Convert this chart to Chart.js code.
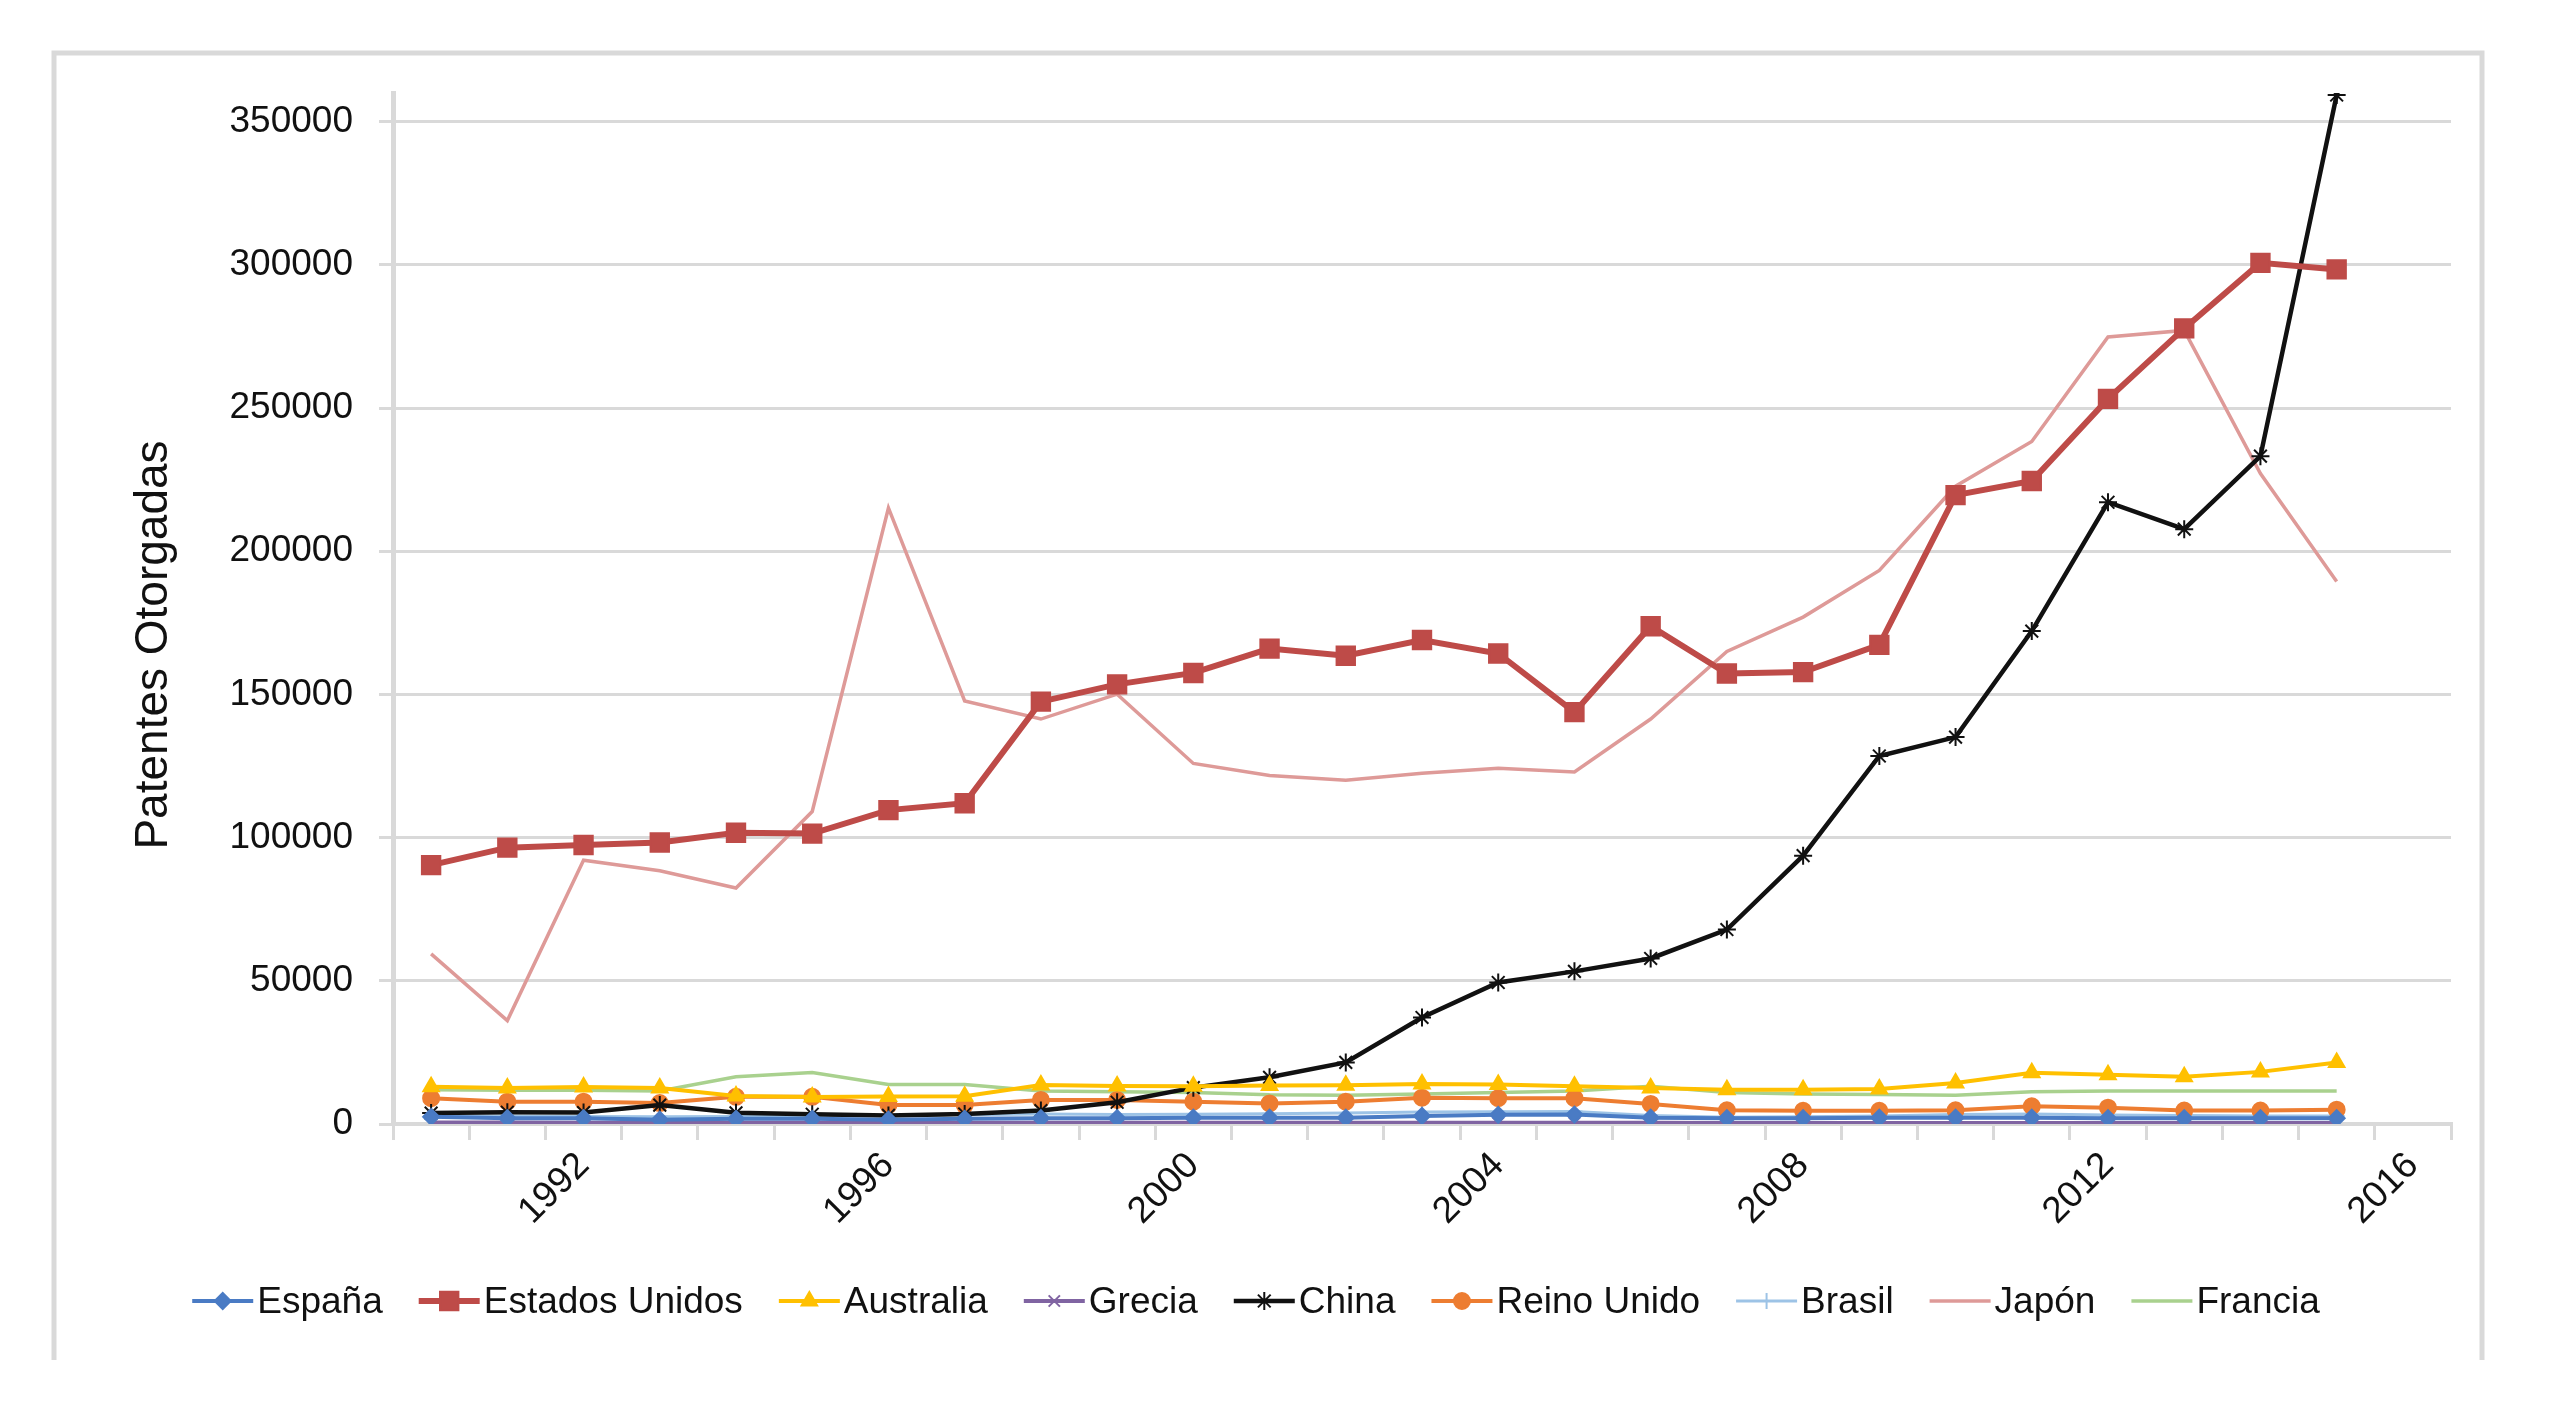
<!DOCTYPE html>
<html>
<head>
<meta charset="utf-8">
<script src="https://cdn.jsdelivr.net/npm/chart.js@4.4.1/dist/chart.umd.min.js"></script>
<style>
html, body { margin: 0; padding: 0; background: #fff; }
</style>
</head>
<body>
<canvas id="chart" width="2550" height="1417"></canvas>
<script>
// categories: 1990..2016 (2016 has no data)
var years = ['1990','1991','1992','1993','1994','1995','1996','1997','1998','1999',
  '2000','2001','2002','2003','2004','2005','2006','2007','2008','2009',
  '2010','2011','2012','2013','2014','2015','2016'];

// patentes otorgadas por pais
var espana = [2500, 2000, 2000, 1500, 1800, 1800, 1500, 1800, 2000, 2000, 2200, 2200, 2200, 2800, 3200, 3300, 2200, 2000, 2000, 2200, 2200, 2200, 2000, 2000, 2000, 2000];
var estadosUnidos = [90400, 96500, 97400, 98300, 101700, 101400, 109600, 112000, 147500, 153500, 157500, 166000, 163500, 169000, 164300, 143800, 173800, 157300, 157800, 167300, 219600, 224500, 253200, 277800, 300700, 298400];
var australia = [13000, 12600, 12900, 12600, 9800, 9400, 9600, 9700, 13600, 13300, 13200, 13400, 13500, 14000, 13800, 13200, 12600, 12000, 12000, 12200, 14300, 17900, 17200, 16500, 18200, 21500];
var grecia = [500, 500, 450, 450, 450, 400, 400, 400, 450, 450, 450, 450, 400, 400, 400, 400, 400, 350, 350, 350, 350, 350, 350, 350, 350, 350];
var china = [3800, 4100, 4000, 6600, 3900, 3400, 3000, 3500, 4700, 7600, 12700, 16300, 21500, 37200, 49400, 53300, 57800, 67900, 93700, 128500, 135100, 172100, 217100, 207700, 233200, 359300];
var reinoUnido = [9000, 7800, 7800, 7300, 9500, 9500, 6600, 6600, 8400, 8400, 7800, 7200, 7800, 9200, 9000, 9000, 7000, 4800, 4600, 4600, 4800, 6200, 5700, 4700, 4700, 5000];
var brasil = [2800, 2800, 2600, 2500, 2600, 2800, 3000, 3200, 3500, 3300, 3400, 3600, 3800, 4200, 4300, 4400, 3000, 2400, 2500, 2800, 3300, 3500, 3100, 3000, 2800, 2800];
var japon = [59400, 36100, 92100, 88400, 82400, 109100, 215100, 147700, 141400, 150100, 125900, 121700, 120000, 122500, 124200, 122900, 141400, 165000, 177000, 193300, 222700, 238300, 274800, 277100, 227100, 189400];
var francia = [12000, 11800, 11800, 11500, 16500, 18000, 13800, 13800, 11500, 11300, 11000, 10200, 10000, 10500, 11000, 11500, 13200, 11000, 10500, 10300, 10000, 11300, 11500, 11500, 11500, 11500];

var yTicks = [0, 50000, 100000, 150000, 200000, 250000, 300000, 350000];
var yTitle = 'Patentes Otorgadas';

function serie(label, data, color, width, style, radius) {
  return {
    label: label,
    data: data,
    borderColor: color,
    backgroundColor: color,
    borderWidth: width,
    pointStyle: style,
    pointRadius: radius,
    pointBackgroundColor: color,
    pointBorderColor: color,
    pointBorderWidth: 2,
    pointHoverRadius: radius,
    tension: 0,
    fill: false
  };
}

var datasets = [
  serie('España', espana, '#4A7BC4', 4, 'rectRot', 8),
  serie('Estados Unidos', estadosUnidos, '#BE4B48', 6, 'rect', 13),
  serie('Australia', australia, '#FFC000', 4, 'triangle', 9),
  serie('Grecia', grecia, '#8064A2', 4, 'crossRot', 8),
  serie('China', china, '#111111', 4.5, 'star', 9),
  serie('Reino Unido', reinoUnido, '#ED7D31', 4, 'circle', 8),
  serie('Brasil', brasil, '#9DC3E6', 3, 'cross', 8),
  serie('Japón', japon, '#DE9A98', 3.5, 'circle', 0),
  serie('Francia', francia, '#A9D18E', 3.5, 'circle', 0)
];

var font = '"Liberation Sans", Arial, sans-serif';
var textColor = '#111';

// frame, y title and legend (line + marker like the spreadsheet legend)
var decor = {
  id: 'decor',
  afterDraw: function(chart) {
    var ctx = chart.ctx;
    ctx.save();
    ctx.strokeStyle = '#d9d9d9';
    ctx.lineWidth = 5;
    ctx.beginPath();
    ctx.moveTo(54, 1360);
    ctx.lineTo(54, 53);
    ctx.lineTo(2482, 53);
    ctx.lineTo(2482, 1360);
    ctx.stroke();

    ctx.save();
    ctx.translate(154, 645);
    ctx.rotate(-Math.PI / 2);
    ctx.font = '46px ' + font;
    ctx.fillStyle = textColor;
    ctx.textAlign = 'center';
    ctx.textBaseline = 'middle';
    ctx.fillText(yTitle, 0, 0);
    ctx.restore();

    ctx.font = '37px ' + font;
    ctx.textBaseline = 'middle';
    ctx.textAlign = 'left';
    var lineLen = 61, gap = 4, spacing = 36;
    var total = 0;
    chart.data.datasets.forEach(function(ds, i) {
      total += lineLen + gap + ctx.measureText(ds.label).width;
      if (i < chart.data.datasets.length - 1) total += spacing;
    });
    var lx = 1256 - total / 2, ly = 1301;
    var drawPoint = Chart.helpers && Chart.helpers.drawPoint;
    chart.data.datasets.forEach(function(ds) {
      ctx.strokeStyle = ds.borderColor;
      ctx.lineWidth = ds.borderWidth;
      ctx.beginPath();
      ctx.moveTo(lx, ly);
      ctx.lineTo(lx + lineLen, ly);
      ctx.stroke();
      if (ds.pointRadius > 0 && drawPoint) {
        ctx.fillStyle = ds.pointBackgroundColor;
        ctx.strokeStyle = ds.pointBorderColor;
        ctx.lineWidth = ds.pointBorderWidth;
        drawPoint(ctx, { pointStyle: ds.pointStyle, radius: ds.pointRadius, rotation: 0, borderWidth: ds.pointBorderWidth }, lx + lineLen / 2, ly);
      }
      ctx.fillStyle = textColor;
      ctx.fillText(ds.label, lx + lineLen + gap, ly + 2);
      lx += lineLen + gap + ctx.measureText(ds.label).width + spacing;
    });
    ctx.restore();
  }
};

new Chart(document.getElementById('chart'), {
  type: 'line',
  data: { labels: years, datasets: datasets },
  plugins: [decor],
  options: {
    responsive: false,
    animation: false,
    layout: { padding: { left: 57, top: 93, right: 99, bottom: 143 } },
    plugins: {
      legend: { display: false },
      tooltip: { enabled: false }
    },
    scales: {
      x: {
        type: 'category',
        offset: true,
        grid: { offset: true, drawOnChartArea: false, drawTicks: true, tickLength: 16, color: '#d9d9d9', lineWidth: 3 },
        border: { color: '#d9d9d9', width: 4 },
        ticks: {
          autoSkip: false,
          minRotation: 45,
          maxRotation: 45,
          padding: 4,
          color: textColor,
          font: { family: font, size: 37 },
          callback: function(v, i) {
            var y = years[i];
            return (+y) % 4 === 0 ? y : '';
          }
        },
        afterFit: function(s) { s.height = 150; }
      },
      y: {
        min: 0,
        max: 360000,
        grid: { color: '#d9d9d9', lineWidth: 3, tickLength: 14 },
        border: { color: '#d9d9d9', width: 5 },
        ticks: {
          stepSize: 50000,
          includeBounds: false,
          padding: 26,
          color: textColor,
          font: { family: font, size: 37 },
          callback: function(v) { return String(v); }
        },
        afterBuildTicks: function(s) {
          s.ticks = yTicks.map(function(v) { return { value: v }; });
        },
        afterFit: function(s) { s.width = 336; }
      }
    }
  }
});
</script>
</body>
</html>
